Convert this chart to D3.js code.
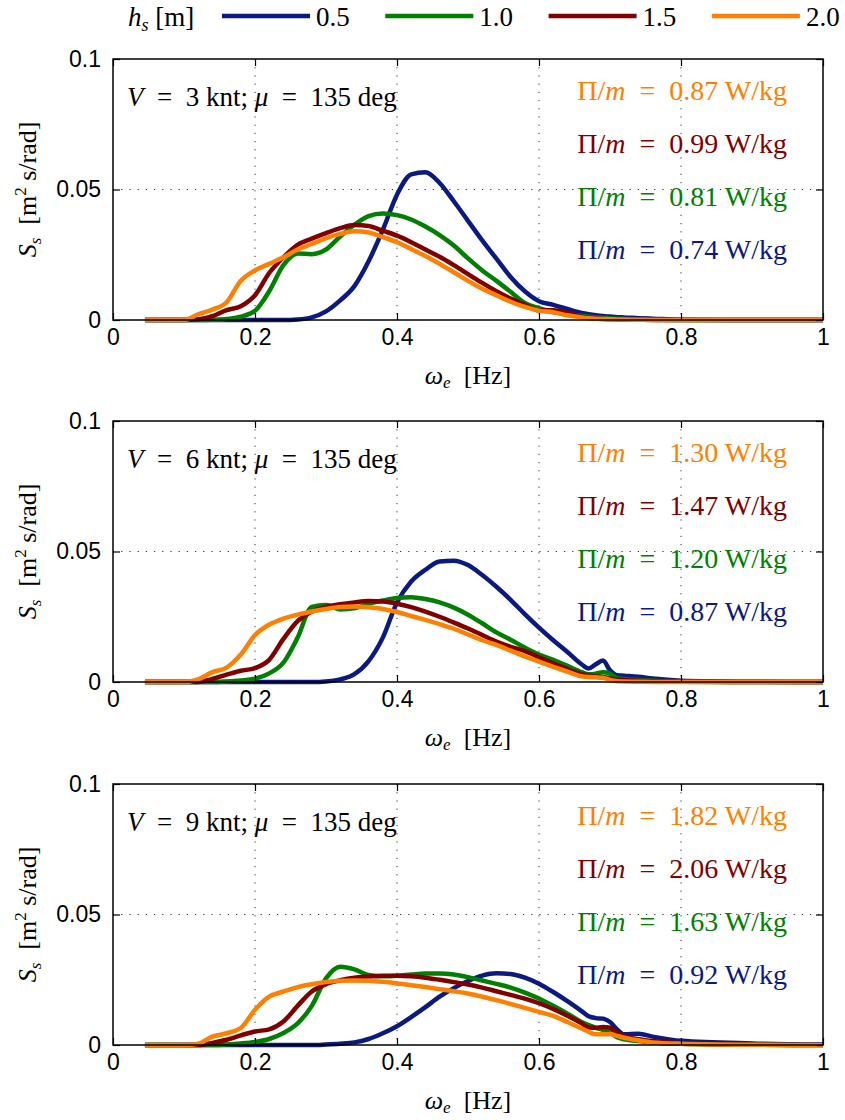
<!DOCTYPE html>
<html>
<head>
<meta charset="utf-8">
<script src="https://cdn.jsdelivr.net/npm/d3@7"></script>
<style>
  body { margin: 0; background: #fff; }
  svg { display: block; }
</style>
</head>
<body>
<svg id="chart" width="845" height="1120"></svg>
<script>
// encounter frequency grid [Hz]
const omega = [0.045, 0.10, 0.12, 0.14, 0.16, 0.18, 0.20, 0.22, 0.24, 0.26, 0.28, 0.30, 0.32, 0.34, 0.36, 0.38,
  0.40, 0.42, 0.44, 0.46, 0.48, 0.50, 0.52, 0.54, 0.56, 0.58, 0.60, 0.62, 0.64, 0.66, 0.67, 0.68, 0.69, 0.70,
  0.71, 0.72, 0.74, 0.76, 0.80, 0.90, 1.0];

const heights = ["0.5", "1.0", "1.5", "2.0"];
const colors = ["#0a1a80", "#008000", "#800000", "#ff8000"];

// V = 3 knt
const v3_h05 = [0, 0, 0, 0, 0, 0, 0, 0, 0, 0.0002, 0.001, 0.0033, 0.0075, 0.013, 0.0225, 0.0345,
  0.048, 0.0558, 0.0566, 0.0525, 0.0455, 0.038, 0.0305, 0.0235, 0.0165, 0.011, 0.0072, 0.0058, 0.0042, 0.0027, 0.0022, 0.0018, 0.0015, 0.0013,
  0.0011, 0.001, 0.0007, 0.0005, 0.0001, 0, 0];
const v3_h10 = [0, 0, 0, 0.0001, 0.0004, 0.0013, 0.0035, 0.011, 0.021, 0.0255, 0.0252, 0.027, 0.032, 0.0365, 0.0398, 0.0408,
  0.0402, 0.0385, 0.0358, 0.0325, 0.0285, 0.0236, 0.019, 0.015, 0.0108, 0.0065, 0.0045, 0.003, 0.0022, 0.0016, 0.0013, 0.001, 0.0008, 0.0006,
  0.0005, 0.0004, 0.0002, 0.0001, 0, 0, 0];
const v3_h15 = [0, 0, 0.0003, 0.0015, 0.0038, 0.0053, 0.0095, 0.018, 0.024, 0.0288, 0.0312, 0.0333, 0.0352, 0.0364, 0.036, 0.0342,
  0.0323, 0.0298, 0.027, 0.0242, 0.021, 0.0176, 0.0142, 0.011, 0.0082, 0.0058, 0.0037, 0.0037, 0.0028, 0.0013, 0.0009, 0.0006, 0.0004, 0.0003,
  0.0002, 0.0002, 0.0001, 0, 0, 0, 0];
const v3_h20 = [0, 0, 0.0022, 0.004, 0.0068, 0.015, 0.019, 0.0215, 0.024, 0.027, 0.0292, 0.0314, 0.033, 0.034, 0.0335, 0.0318,
  0.0298, 0.0272, 0.0245, 0.0215, 0.0183, 0.015, 0.012, 0.0095, 0.007, 0.005, 0.0036, 0.003, 0.0018, 0.001, 0.0007, 0.0005, 0.0004, 0.0003,
  0.0002, 0.0002, 0.0001, 0, 0, 0, 0];

// V = 6 knt
const v6_h05 = [0, 0, 0, 0, 0, 0, 0, 0, 0, 0, 0, 0.0002, 0.001, 0.003, 0.008, 0.017,
  0.0305, 0.0385, 0.043, 0.0462, 0.0465, 0.0448, 0.041, 0.0365, 0.0315, 0.026, 0.0208, 0.016, 0.0115, 0.0068, 0.0052, 0.0068, 0.0082, 0.0045,
  0.0026, 0.0024, 0.002, 0.0013, 0.0005, 0.0001, 0];
const v6_h10 = [0, 0, 0, 0, 0.0002, 0.0006, 0.0013, 0.0033, 0.0074, 0.017, 0.0288, 0.0295, 0.0278, 0.0282, 0.030, 0.0312,
  0.0322, 0.0325, 0.0318, 0.0305, 0.0285, 0.0258, 0.0225, 0.019, 0.0162, 0.0132, 0.0105, 0.0085, 0.0062, 0.0038, 0.003, 0.0032, 0.0037, 0.0032,
  0.0015, 0.0012, 0.0008, 0.0005, 0.0002, 0, 0];
const v6_h15 = [0, 0, 0, 0.0012, 0.0028, 0.0043, 0.0053, 0.0085, 0.0165, 0.0233, 0.027, 0.0288, 0.0298, 0.0305, 0.031, 0.0308,
  0.030, 0.0287, 0.027, 0.025, 0.0228, 0.0205, 0.018, 0.0155, 0.0135, 0.0118, 0.0095, 0.0072, 0.005, 0.003, 0.0025, 0.0021, 0.0019, 0.0014,
  0.001, 0.0008, 0.0005, 0.0003, 0.0001, 0, 0];
const v6_h20 = [0, 0, 0.001, 0.0038, 0.0055, 0.0105, 0.018, 0.022, 0.0243, 0.0258, 0.027, 0.028, 0.0287, 0.0289, 0.0286, 0.028,
  0.0268, 0.0253, 0.0238, 0.0222, 0.0204, 0.0182, 0.016, 0.0142, 0.012, 0.0098, 0.0078, 0.0058, 0.004, 0.0022, 0.0019, 0.0018, 0.0016, 0.0008,
  0.0003, 0.0002, 0.0001, 0, 0, 0, 0];

// V = 9 knt
const v9_h05 = [0, 0, 0, 0, 0, 0, 0, 0, 0, 0, 0, 0.0002, 0.0005, 0.001, 0.0023, 0.0045,
  0.0072, 0.0107, 0.0145, 0.0185, 0.0218, 0.0245, 0.0266, 0.0275, 0.0272, 0.0258, 0.0235, 0.0203, 0.0168, 0.013, 0.011, 0.0103, 0.0101, 0.0088,
  0.006, 0.0041, 0.0043, 0.0032, 0.0016, 0.0006, 0.0002];
const v9_h10 = [0, 0, 0, 0, 0.0002, 0.0006, 0.0012, 0.0023, 0.0046, 0.0083, 0.015, 0.0255, 0.030, 0.029, 0.0268, 0.0263,
  0.0265, 0.027, 0.0274, 0.0274, 0.027, 0.026, 0.0247, 0.0234, 0.022, 0.0201, 0.0178, 0.015, 0.012, 0.0088, 0.0076, 0.0066, 0.0058, 0.0048,
  0.003, 0.0022, 0.0015, 0.001, 0.0005, 0.0001, 0];
const v9_h15 = [0, 0, 0, 0.0008, 0.002, 0.0037, 0.0052, 0.006, 0.009, 0.015, 0.0205, 0.0233, 0.0248, 0.0258, 0.0262, 0.0265,
  0.0265, 0.0263, 0.0258, 0.025, 0.0241, 0.0232, 0.022, 0.0206, 0.0192, 0.0178, 0.016, 0.0138, 0.0112, 0.0083, 0.0067, 0.0066, 0.0069, 0.0066,
  0.0048, 0.0034, 0.0022, 0.0015, 0.0007, 0.0001, 0];
const v9_h20 = [0, 0, 0.0005, 0.0032, 0.0045, 0.0065, 0.0135, 0.0185, 0.0205, 0.0222, 0.0233, 0.0241, 0.0246, 0.0247, 0.0246, 0.0242,
  0.0236, 0.0229, 0.0222, 0.0214, 0.0206, 0.0197, 0.0185, 0.0172, 0.0157, 0.0142, 0.0127, 0.0112, 0.0088, 0.0063, 0.005, 0.0041, 0.0041, 0.0042,
  0.0035, 0.0028, 0.0018, 0.001, 0.0005, 0.0001, 0];

const speeds = ["3", "6", "9"];
// Π/m per panel, listed top to bottom (h = 2.0, 1.5, 1.0, 0.5)
const power3 = ["0.87", "0.99", "0.81", "0.74"];
const power6 = ["1.30", "1.47", "1.20", "0.87"];
const power9 = ["1.82", "2.06", "1.63", "0.92"];

const xTicks = [0, 0.2, 0.4, 0.6, 0.8, 1];
const yTicks = [0, 0.05, 0.1];

const panels = [
  { speed: speeds[0], series: [v3_h05, v3_h10, v3_h15, v3_h20], power: power3 },
  { speed: speeds[1], series: [v6_h05, v6_h10, v6_h15, v6_h20], power: power6 },
  { speed: speeds[2], series: [v9_h05, v9_h10, v9_h15, v9_h20], power: power9 }
];

const svg = d3.select("#chart");
const serif = "'Liberation Serif', 'DejaVu Serif', serif";
const sans = "'Liberation Sans', Arial, sans-serif";
const sp = "\u2002"; // wider space around "=" like TeX math

const left = 113, right = 823, plotH = 261;
const tops = [59, 421, 784];

const x = d3.scaleLinear().domain([0, 1]).range([left, right]);

// legend
const legend = svg.append("g").attr("font-family", serif).attr("font-size", 27);
const lt = legend.append("text").attr("x", 128).attr("y", 26);
lt.append("tspan").attr("font-style", "italic").text("h");
lt.append("tspan").attr("font-style", "italic").attr("font-size", 18).attr("dy", 5).text("s");
lt.append("tspan").attr("dy", -5).text(" [m]");
heights.forEach((h, i) => {
  const x0 = 222 + i * 163.3;
  legend.append("line").attr("x1", x0).attr("x2", x0 + 88).attr("y1", 16).attr("y2", 16)
    .attr("stroke", colors[i]).attr("stroke-width", 4.5);
  legend.append("text").attr("x", x0 + 94).attr("y", 26).text(h);
});

panels.forEach((p, k) => {
  const top = tops[k];
  const y = d3.scaleLinear().domain([0, 0.1]).range([top + plotH, top]);
  const g = svg.append("g");

  // dotted grid
  g.append("g").selectAll("line").data(xTicks.slice(1, -1)).join("line")
    .attr("x1", d => x(d)).attr("x2", d => x(d)).attr("y1", top).attr("y2", top + plotH)
    .attr("stroke", "#333").attr("stroke-width", 1).attr("stroke-dasharray", "1.2,7");
  g.append("g").selectAll("line").data([0.05]).join("line")
    .attr("x1", left).attr("x2", right).attr("y1", d => y(d)).attr("y2", d => y(d))
    .attr("stroke", "#333").attr("stroke-width", 1).attr("stroke-dasharray", "1.2,7");

  // curves
  const line = d3.line().x((d, i) => x(omega[i])).y(d => y(d)).curve(d3.curveMonotoneX);
  g.append("g").selectAll("path").data(p.series).join("path")
    .attr("d", d => line(d))
    .attr("fill", "none")
    .attr("stroke", (d, i) => colors[i])
    .attr("stroke-width", 4.5)
    .attr("stroke-linejoin", "round");

  // axes, ticks inside on all four sides
  const fmt = d => String(+d.toFixed(2));
  const bottom = g.append("g").attr("transform", `translate(0,${top + plotH})`)
    .call(d3.axisBottom(x).tickValues(xTicks).tickFormat(fmt).tickSizeInner(-7).tickSizeOuter(0).tickPadding(9));
  const leftAx = g.append("g").attr("transform", `translate(${left},0)`)
    .call(d3.axisLeft(y).tickValues(yTicks).tickFormat(fmt).tickSizeInner(-7).tickSizeOuter(0).tickPadding(12));
  g.append("g").attr("transform", `translate(0,${top})`)
    .call(d3.axisTop(x).tickValues(xTicks).tickFormat("").tickSizeInner(-7).tickSizeOuter(0));
  g.append("g").attr("transform", `translate(${right},0)`)
    .call(d3.axisRight(y).tickValues(yTicks).tickFormat("").tickSizeInner(-7).tickSizeOuter(0));
  g.selectAll(".domain").remove();
  g.selectAll(".tick line").attr("stroke", "#000").attr("stroke-width", 1.2);
  [bottom, leftAx].forEach(a => a.selectAll("text")
    .attr("font-family", sans).attr("font-size", 23).attr("fill", "#000"));

  g.append("rect").attr("x", left).attr("y", top).attr("width", right - left).attr("height", plotH)
    .attr("fill", "none").attr("stroke", "#000").attr("stroke-width", 1.5);

  // x label
  const xl = g.append("text").attr("x", (left + right) / 2).attr("y", top + plotH + 64)
    .attr("text-anchor", "middle").attr("font-family", serif).attr("font-size", 26);
  xl.append("tspan").attr("font-style", "italic").text("ω");
  xl.append("tspan").attr("font-style", "italic").attr("font-size", 17).attr("dy", 4).text("e");
  xl.append("tspan").attr("dy", -4).text(sp + "[Hz]");

  // y label
  const yl = g.append("text")
    .attr("transform", `translate(36,${top + plotH / 2}) rotate(-90)`)
    .attr("text-anchor", "middle").attr("font-family", serif).attr("font-size", 26);
  yl.append("tspan").attr("font-style", "italic").text("S");
  yl.append("tspan").attr("font-style", "italic").attr("font-size", 17).attr("dy", 5).text("s");
  yl.append("tspan").attr("dy", -5).text(sp + "[m");
  yl.append("tspan").attr("font-size", 17).attr("dy", -10).text("2");
  yl.append("tspan").attr("dy", 10).text(" s/rad]");

  // speed annotation
  const an = g.append("text").attr("x", 127).attr("y", top + 47)
    .attr("font-family", serif).attr("font-size", 27);
  an.append("tspan").attr("font-style", "italic").text("V");
  an.append("tspan").text(`${sp}=${sp}${p.speed} knt; `);
  an.append("tspan").attr("font-style", "italic").text("μ");
  an.append("tspan").text(`${sp}=${sp}135 deg`);

  // power labels, colours from h = 2.0 down to 0.5
  p.power.forEach((v, j) => {
    const t = g.append("text").attr("x", 787).attr("y", top + 41 + j * 53)
      .attr("text-anchor", "end").attr("font-family", serif).attr("font-size", 28)
      .attr("fill", colors[3 - j]);
    t.append("tspan").text("Π/");
    t.append("tspan").attr("font-style", "italic").text("m");
    t.append("tspan").text(`${sp}=${sp}${v} W/kg`);
  });
});
</script>
</body>
</html>
